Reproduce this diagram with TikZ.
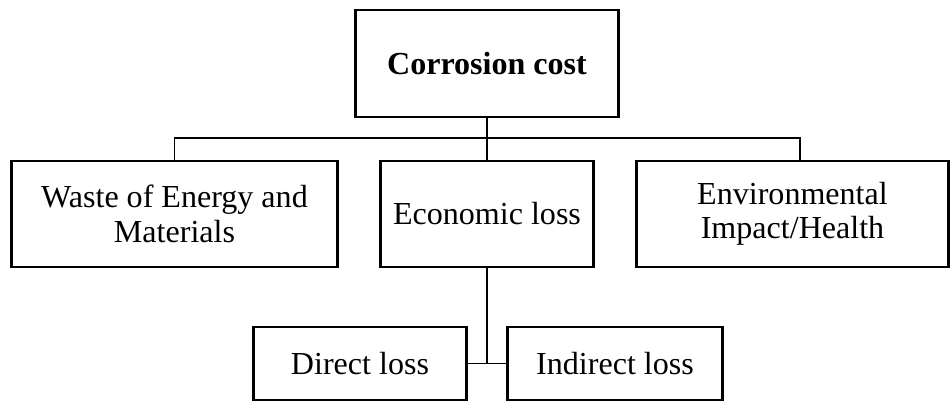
\documentclass[tikz,border=0pt]{standalone}
\usepackage{fontspec}
\setmainfont{Liberation Serif}
\usetikzlibrary{positioning}

\begin{document}
\begin{tikzpicture}[
    x=0.025cm, y=-0.025cm,
    box/.style={rectangle, draw, line width=2.1pt, align=center, inner sep=2pt, font=\fontsize{22.8}{24.5}\selectfont},
    topbox/.style={box, font=\fontsize{22.8}{24.5}\selectfont\bfseries},
    link/.style={draw, line width=1.3pt},
]
\useasboundingbox (0,0) rectangle (950,403);
\node[topbox, minimum width=6.55cm, minimum height=2.675cm]  (cost)     at (487,63.5)   {Corrosion cost};
\node[box, minimum width=8.125cm, minimum height=2.65cm]     (waste)    at (174.5,214)  {Waste of Energy and\\Materials};
\node[box, minimum width=5.325cm, minimum height=2.65cm]     (econ)     at (487,214)    {Economic loss};
\node[box, minimum width=7.775cm, minimum height=2.65cm]     (env)      at (792.5,214)  {Environmental\\Impact/Health};
\node[box, minimum width=5.3cm, minimum height=1.825cm]      (direct)   at (360,363.5)  {Direct loss};
\node[box, minimum width=5.35cm, minimum height=1.825cm]     (indirect) at (615,363.5)  {Indirect loss};
% tree connectors
\coordinate (bus)    at (487,138);
\coordinate (envtop) at (800,161);
\draw[link] (cost.south) -- (econ.north);
\draw[link] (waste.north) |- (bus) -| (envtop);
\draw[link] (econ.south) -- (econ.south |- direct.east);
\draw[link] (direct.east) -- (indirect.west);
\end{tikzpicture}
\end{document}
